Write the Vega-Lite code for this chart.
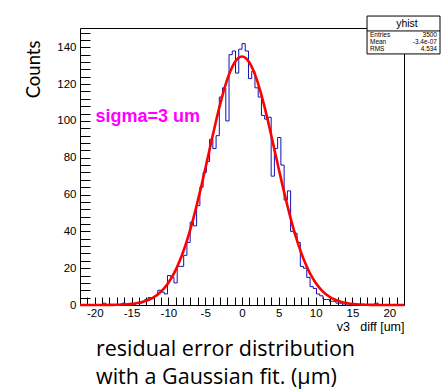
{
  "$schema": "https://vega.github.io/schema/vega-lite/v6.json",
  "width": 324,
  "height": 277,
  "autosize": {"type": "none"},
  "padding": {"left": 80, "top": 28, "right": 37, "bottom": 87},
  "background": "white",
  "config": {"view": {"stroke": "black", "strokeWidth": 1}, "font": "Liberation Sans"},
  "title": {
    "text": ["residual error distribution", "with a Gaussian fit. (μm)"],
    "orient": "bottom", "anchor": "start", "frame": "group",
    "font": "Open Sans", "fontSize": 21.5, "fontWeight": "normal", "color": "black",
    "lineHeight": 28, "dx": 16, "offset": 6, "baseline": "top"
  },
  "datasets": {
    "hist": [
      {"x": -21.78, "count": 0}, {"x": -21.34, "count": 0}, {"x": -20.9, "count": 0}, {"x": -20.46, "count": 0},
      {"x": -20.02, "count": 0}, {"x": -19.58, "count": 0}, {"x": -19.14, "count": 0}, {"x": -18.7, "count": 1},
      {"x": -18.26, "count": 0}, {"x": -17.82, "count": 0}, {"x": -17.38, "count": 0}, {"x": -16.94, "count": 0},
      {"x": -16.5, "count": 0}, {"x": -16.06, "count": 1}, {"x": -15.62, "count": 0}, {"x": -15.18, "count": 0},
      {"x": -14.74, "count": 0}, {"x": -14.3, "count": 1}, {"x": -13.86, "count": 1}, {"x": -13.42, "count": 2},
      {"x": -12.98, "count": 3}, {"x": -12.54, "count": 4}, {"x": -12.1, "count": 4}, {"x": -11.66, "count": 5},
      {"x": -11.22, "count": 8}, {"x": -10.78, "count": 7}, {"x": -10.34, "count": 6}, {"x": -9.9, "count": 16},
      {"x": -9.46, "count": 15}, {"x": -9.02, "count": 12}, {"x": -8.58, "count": 21}, {"x": -8.14, "count": 21},
      {"x": -7.7, "count": 27}, {"x": -7.26, "count": 34}, {"x": -6.82, "count": 45}, {"x": -6.38, "count": 43},
      {"x": -5.94, "count": 54}, {"x": -5.5, "count": 64}, {"x": -5.06, "count": 72}, {"x": -4.62, "count": 78},
      {"x": -4.18, "count": 90}, {"x": -3.74, "count": 85}, {"x": -3.3, "count": 92}, {"x": -2.86, "count": 113},
      {"x": -2.42, "count": 118}, {"x": -1.98, "count": 100}, {"x": -1.54, "count": 136}, {"x": -1.1, "count": 138},
      {"x": -0.66, "count": 126}, {"x": -0.22, "count": 139}, {"x": 0.22, "count": 142}, {"x": 0.66, "count": 138},
      {"x": 1.1, "count": 123}, {"x": 1.54, "count": 127}, {"x": 1.98, "count": 118}, {"x": 2.42, "count": 113},
      {"x": 2.86, "count": 103}, {"x": 3.3, "count": 101}, {"x": 3.74, "count": 102}, {"x": 4.18, "count": 70},
      {"x": 4.62, "count": 85}, {"x": 5.06, "count": 91}, {"x": 5.5, "count": 76}, {"x": 5.94, "count": 57},
      {"x": 6.38, "count": 62}, {"x": 6.82, "count": 40}, {"x": 7.26, "count": 39}, {"x": 7.7, "count": 34},
      {"x": 8.14, "count": 21}, {"x": 8.58, "count": 20}, {"x": 9.02, "count": 15}, {"x": 9.46, "count": 10},
      {"x": 9.9, "count": 9}, {"x": 10.34, "count": 6}, {"x": 10.78, "count": 5}, {"x": 11.22, "count": 3},
      {"x": 11.66, "count": 3}, {"x": 12.1, "count": 2}, {"x": 12.54, "count": 2}, {"x": 12.98, "count": 1},
      {"x": 13.42, "count": 1}, {"x": 13.86, "count": 0}, {"x": 14.3, "count": 0}, {"x": 14.74, "count": 0},
      {"x": 15.18, "count": 0}, {"x": 15.62, "count": 0}, {"x": 16.06, "count": 0}, {"x": 16.5, "count": 0},
      {"x": 16.94, "count": 0}, {"x": 17.38, "count": 0}, {"x": 17.82, "count": 0}, {"x": 18.26, "count": 1},
      {"x": 18.7, "count": 0}, {"x": 19.14, "count": 0}, {"x": 19.58, "count": 0}, {"x": 20.02, "count": 0},
      {"x": 20.46, "count": 0}, {"x": 20.9, "count": 0}, {"x": 21.34, "count": 0}, {"x": 21.78, "count": 0}
    ],
    "fit": [
      {"x": -22, "f": 0}, {"x": -21.5, "f": 0}, {"x": -21, "f": 0}, {"x": -20.5, "f": 0}, {"x": -20, "f": 0},
      {"x": -19.5, "f": 0.01}, {"x": -19, "f": 0.02}, {"x": -18.5, "f": 0.03}, {"x": -18, "f": 0.05},
      {"x": -17.5, "f": 0.08}, {"x": -17, "f": 0.12}, {"x": -16.5, "f": 0.19}, {"x": -16, "f": 0.28},
      {"x": -15.5, "f": 0.41}, {"x": -15, "f": 0.59}, {"x": -14.5, "f": 0.84}, {"x": -14, "f": 1.19},
      {"x": -13.5, "f": 1.65}, {"x": -13, "f": 2.28}, {"x": -12.5, "f": 3.1}, {"x": -12, "f": 4.17},
      {"x": -11.5, "f": 5.53}, {"x": -11, "f": 7.26}, {"x": -10.5, "f": 9.42}, {"x": -10, "f": 12.07},
      {"x": -9.5, "f": 15.27}, {"x": -9, "f": 19.1}, {"x": -8.5, "f": 23.58}, {"x": -8, "f": 28.78},
      {"x": -7.5, "f": 34.7}, {"x": -7, "f": 41.35}, {"x": -6.5, "f": 48.68}, {"x": -6, "f": 56.7},
      {"x": -5.5, "f": 65.01}, {"x": -5, "f": 73.8}, {"x": -4.5, "f": 82.77}, {"x": -4, "f": 91.72},
      {"x": -3.5, "f": 100.42}, {"x": -3, "f": 108.62}, {"x": -2.5, "f": 116.09}, {"x": -2, "f": 122.57},
      {"x": -1.5, "f": 127.86}, {"x": -1, "f": 131.78}, {"x": -0.5, "f": 134.19}, {"x": 0, "f": 135},
      {"x": 0.5, "f": 134.19}, {"x": 1, "f": 131.78}, {"x": 1.5, "f": 127.86}, {"x": 2, "f": 122.57},
      {"x": 2.5, "f": 116.09}, {"x": 3, "f": 108.62}, {"x": 3.5, "f": 100.42}, {"x": 4, "f": 91.72},
      {"x": 4.5, "f": 82.77}, {"x": 5, "f": 73.8}, {"x": 5.5, "f": 65.01}, {"x": 6, "f": 56.7},
      {"x": 6.5, "f": 48.68}, {"x": 7, "f": 41.35}, {"x": 7.5, "f": 34.7}, {"x": 8, "f": 28.78},
      {"x": 8.5, "f": 23.58}, {"x": 9, "f": 19.1}, {"x": 9.5, "f": 15.27}, {"x": 10, "f": 12.07},
      {"x": 10.5, "f": 9.42}, {"x": 11, "f": 7.26}, {"x": 11.5, "f": 5.53}, {"x": 12, "f": 4.17},
      {"x": 12.5, "f": 3.1}, {"x": 13, "f": 2.28}, {"x": 13.5, "f": 1.65}, {"x": 14, "f": 1.19},
      {"x": 14.5, "f": 0.84}, {"x": 15, "f": 0.59}, {"x": 15.5, "f": 0.41}, {"x": 16, "f": 0.28},
      {"x": 16.5, "f": 0.19}, {"x": 17, "f": 0.12}, {"x": 17.5, "f": 0.08}, {"x": 18, "f": 0.05},
      {"x": 18.5, "f": 0.03}, {"x": 19, "f": 0.02}, {"x": 19.5, "f": 0.01}, {"x": 20, "f": 0},
      {"x": 20.5, "f": 0}, {"x": 21, "f": 0}, {"x": 21.5, "f": 0}, {"x": 22, "f": 0}
    ]
  },
  "layer": [
    {
      "data": {"name": "hist"},
      "mark": {"type": "line", "interpolate": "step", "color": "#1010b8", "strokeWidth": 1},
      "encoding": {
        "x": {
          "field": "x", "type": "quantitative",
          "scale": {"domain": [-22, 22], "nice": false, "zero": false},
          "axis": {
            "values": [-21,-20,-19,-18,-17,-16,-15,-14,-13,-12,-11,-10,-9,-8,-7,-6,-5,-4,-3,-2,-1,0,1,2,3,4,5,6,7,8,9,10,11,12,13,14,15,16,17,18,19,20,21],
            "tickCount": 200,
            "labelExpr": "datum.value % 5 === 0 ? '' + datum.value : ''",
            "tickSize": -8,
            "encode": {"ticks": {"update": {"y2": {"signal": "datum.value % 5 === 0 ? -8 : -4"}}}},
            "tickColor": "black", "tickWidth": 1,
            "labelPadding": 10, "labelFontSize": 11.5, "labelColor": "black", "labelFont": "Liberation Sans",
            "labelOverlap": false, "labelFlush": false, "labelBaseline": "top",
            "domain": false, "grid": false,
            "title": "v3\u00a0\u00a0\u00a0diff [um]", "titleAnchor": "end", "titleAlign": "right", "titleBaseline": "alphabetic",
            "titleX": 324, "titleY": 25, "titleFont": "Liberation Sans", "titleFontSize": 12.5,
            "titleFontWeight": "normal", "titleColor": "black"
          }
        },
        "y": {
          "field": "count", "type": "quantitative",
          "scale": {"domain": [0, 150.5], "nice": false, "zero": true},
          "axis": {
            "values": [0,4,8,12,16,20,24,28,32,36,40,44,48,52,56,60,64,68,72,76,80,84,88,92,96,100,104,108,112,116,120,124,128,132,136,140,144,148],
            "tickCount": 200,
            "labelExpr": "datum.value % 20 === 0 ? '' + datum.value : ''",
            "tickSize": -10,
            "encode": {"ticks": {"update": {"x2": {"signal": "datum.value % 20 === 0 ? 10 : 5"}}}},
            "tickColor": "black", "tickWidth": 1,
            "labelPadding": 14, "labelFontSize": 11.5, "labelColor": "black", "labelFont": "Liberation Sans",
            "labelOverlap": false, "labelFlush": false,
            "domain": false, "grid": false,
            "title": "Counts", "titleAnchor": "end", "titleAlign": "right", "titleBaseline": "middle",
            "titleAngle": -90, "titleX": -47, "titleY": 12, "titleFont": "Lato", "titleFontSize": 18.5,
            "titleFontWeight": "normal", "titleColor": "black"
          }
        }
      }
    },
    {
      "data": {"name": "fit"},
      "mark": {"type": "line", "interpolate": "monotone", "color": "#ff0000", "strokeWidth": 2.6},
      "encoding": {
        "x": {"field": "x", "type": "quantitative"},
        "y": {"field": "f", "type": "quantitative"}
      }
    },
    {
      "data": {"values": [{"label": "sigma=3 um"}]},
      "mark": {"type": "text", "align": "left", "baseline": "middle", "font": "Liberation Sans", "fontWeight": "bold", "fontSize": 18, "color": "#ff00ff"},
      "encoding": {
        "x": {"datum": -19.9},
        "y": {"datum": 102.1},
        "text": {"field": "label"}
      }
    },
    {
      "data": {"values": [{"box": "yhist"}]},
      "mark": {"type": "rect", "fill": "white", "stroke": "black", "strokeWidth": 1, "clip": false},
      "encoding": {
        "x": {"datum": 16.98}, "x2": {"datum": 26.89},
        "y": {"datum": 157.0}, "y2": {"datum": 136.4}
      }
    },
    {
      "data": {"values": [{"box": "yhist"}]},
      "mark": {"type": "rule", "color": "black", "strokeWidth": 1},
      "encoding": {
        "x": {"datum": 16.98}, "x2": {"datum": 26.89},
        "y": {"datum": 148.9}
      }
    },
    {
      "data": {"values": [{"label": "yhist"}]},
      "mark": {"type": "text", "align": "center", "baseline": "middle", "font": "Liberation Sans", "fontSize": 10.5, "color": "black"},
      "encoding": {
        "x": {"datum": 22.4}, "y": {"datum": 152.9},
        "text": {"field": "label"}
      }
    },
    {
      "data": {"values": [{"label": "Entries\nMean\nRMS"}]},
      "mark": {"type": "text", "align": "left", "baseline": "top", "lineBreak": "\n", "lineHeight": 7, "font": "Liberation Sans", "fontSize": 6.5, "color": "black"},
      "encoding": {
        "x": {"datum": 17.38}, "y": {"datum": 148.3},
        "text": {"field": "label"}
      }
    },
    {
      "data": {"values": [{"label": "3500\n-3.4e-07\n4.534"}]},
      "mark": {"type": "text", "align": "right", "baseline": "top", "lineBreak": "\n", "lineHeight": 7, "font": "Liberation Sans", "fontSize": 6.5, "color": "black"},
      "encoding": {
        "x": {"datum": 26.48}, "y": {"datum": 148.3},
        "text": {"field": "label"}
      }
    }
  ]
}
